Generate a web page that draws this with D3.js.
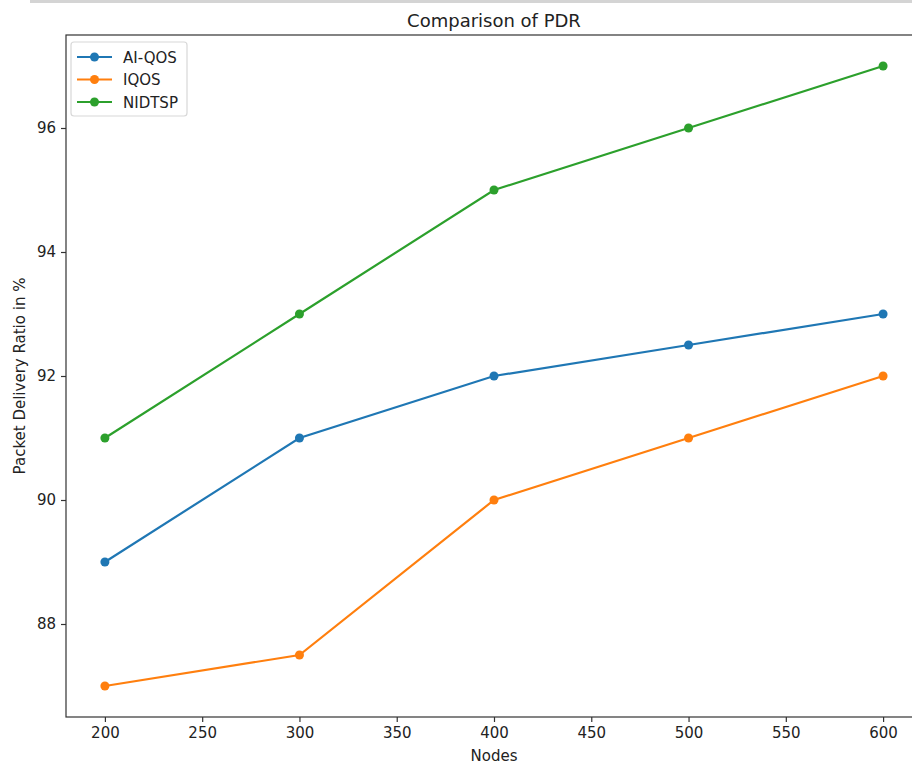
<!DOCTYPE html>
<html>
<head>
<meta charset="utf-8">
<script src="https://cdn.jsdelivr.net/npm/d3@7"></script>
<style>
  html, body { margin: 0; padding: 0; background: #fff; }
  svg { display: block; font-family: "DejaVu Sans", sans-serif; }
</style>
</head>
<body>
<svg id="chart" width="912" height="765"></svg>
<script>
const nodes = [200, 300, 400, 500, 600];
const aiQos = [89, 91, 92, 92.5, 93];
const iQos = [87, 87.5, 90, 91, 92];
const nidtsp = [91, 93, 95, 96, 97];
const seriesNames = ["AI-QOS", "IQOS", "NIDTSP"];
const seriesColors = ["#1f77b4", "#ff7f0e", "#2ca02c"];
const xTicks = [200, 250, 300, 350, 400, 450, 500, 550, 600];
const yTicks = [88, 90, 92, 94, 96];

(function () {
const series = [aiQos, iQos, nidtsp].map((vals, i) => ({
  name: seriesNames[i], color: seriesColors[i],
  points: nodes.map((n, j) => ({x: n, y: vals[j]}))
}));

const svg = d3.select("#chart");
const pL = 66, pR = 922, pT = 35, pB = 717;

// screenshot artifact strip at the top
svg.append("rect").attr("x", 30).attr("y", 0).attr("width", 882).attr("height", 3).attr("fill", "#d4d4d4");

const x = d3.scaleLinear().domain([180, 620]).range([pL, pR]);
const y = d3.scaleLinear().domain([86.5, 97.5]).range([pB, pT]);

// Title
svg.append("text").attr("x", (pL + pR) / 2).attr("y", 27)
  .attr("text-anchor", "middle").attr("font-size", 18).attr("fill", "#222")
  .text("Comparison of PDR");

// Axes
const xAxis = svg.append("g").attr("transform", `translate(0,${pB})`)
  .call(d3.axisBottom(x).tickValues(xTicks).tickSize(5).tickPadding(5).tickFormat(d3.format("d")));
const yAxis = svg.append("g").attr("transform", `translate(${pL},0)`)
  .call(d3.axisLeft(y).tickValues(yTicks).tickSize(5).tickPadding(5).tickFormat(d3.format("d")));
[xAxis, yAxis].forEach(g => {
  g.select(".domain").remove();
  g.selectAll(".tick line").attr("stroke", "#333").attr("stroke-width", 1.2);
  g.selectAll(".tick text").attr("font-size", 15).attr("fill", "#222").attr("font-family", "DejaVu Sans, sans-serif");
});

// Spines
svg.append("rect").attr("x", pL).attr("y", pT).attr("width", pR - pL).attr("height", pB - pT)
  .attr("fill", "none").attr("stroke", "#333").attr("stroke-width", 1.2);

// Axis labels
svg.append("text").attr("x", (pL + pR) / 2).attr("y", 761)
  .attr("text-anchor", "middle").attr("font-size", 15).attr("fill", "#222").text("Nodes");
svg.append("text").attr("transform", `translate(25,${(pT + pB) / 2}) rotate(-90)`)
  .attr("text-anchor", "middle").attr("font-size", 15).attr("fill", "#222").text("Packet Delivery Ratio in %");

// Lines and markers
const line = d3.line().x(d => x(d.x)).y(d => y(d.y));
const plot = svg.append("g");
series.forEach(s => {
  plot.append("path").datum(s.points).attr("d", line)
    .attr("fill", "none").attr("stroke", s.color).attr("stroke-width", 2.2);
  plot.selectAll(null).data(s.points).enter().append("circle")
    .attr("cx", d => x(d.x)).attr("cy", d => y(d.y)).attr("r", 4.5).attr("fill", s.color);
});

// Legend
const lg = svg.append("g");
lg.append("rect").attr("x", 71).attr("y", 42).attr("width", 116).attr("height", 74).attr("rx", 3)
  .attr("fill", "#fff").attr("fill-opacity", 0.8).attr("stroke", "#d8d8d8").attr("stroke-width", 1.2);
series.forEach((s, i) => {
  const yy = 57 + i * 22.5;
  lg.append("line").attr("x1", 77).attr("x2", 112).attr("y1", yy).attr("y2", yy)
    .attr("stroke", s.color).attr("stroke-width", 2.2);
  lg.append("circle").attr("cx", 94.5).attr("cy", yy).attr("r", 4.5).attr("fill", s.color);
  lg.append("text").attr("x", 123).attr("y", yy + 5.5).attr("font-size", 15).attr("fill", "#222").text(s.name);
});
})();
</script>
</body>
</html>
